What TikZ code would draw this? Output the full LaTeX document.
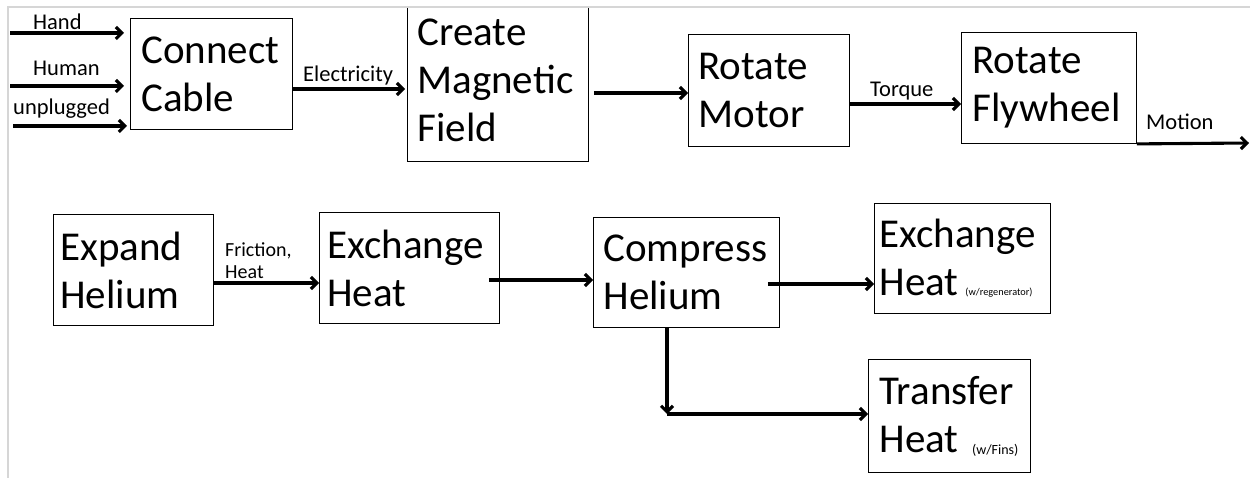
\documentclass[tikz,border=0pt]{standalone}
\usepackage{fontspec}
\setmainfont{Carlito}
\usetikzlibrary{arrows.meta}
\begin{document}
\begin{tikzpicture}[x=1pt,y=-1pt,
  box/.style={draw=black, line width=0.9pt, rectangle, anchor=north west, align=left,
              inner ysep=0pt, font=\fontsize{41}{48}\selectfont},
  arr/.style={line width=3.1pt, -{Straight Barb[length=6pt,width=12pt]}},
  lbl/.style={anchor=base west, inner sep=0pt, font=\fontsize{22.5}{27}\selectfont},
  slbl/.style={anchor=base west, inner sep=0pt, font=\fontsize{20}{22}\selectfont},
  frame/.style={draw=black!16, line width=2pt}
]
\useasboundingbox (0,0) rectangle (1250,478);

% row 1 boxes
\node[box, inner xsep=11pt, text width=140pt, minimum height=111pt] (cc) at (130,18) {Connect\\Cable};
\node[box, draw=none, inner xsep=10pt, text width=161pt, minimum height=163pt] (cmf) at (407,-2) {Create\\Magnetic\\Field};
\draw[line width=0.9pt] (cmf.south west) rectangle (cmf.east |- 0,7);
\node[box, inner xsep=10pt, text width=141pt, minimum height=112pt] (rm) at (688,34) {Rotate\\Motor};
\node[box, inner xsep=11pt, text width=153pt, minimum height=111pt] (rf) at (961,32) {Rotate\\Flywheel};
\draw[frame] (8,478) -- (8,7) -- (1250,7);

% row 2 boxes
\node[box, inner xsep=7pt, text width=146pt, minimum height=111pt] (eh) at (53,214) {Expand\\Helium};
\node[box, inner xsep=8pt, text width=164pt, minimum height=111pt] (exh) at (319,212) {Exchange\\Heat};
\node[box, inner xsep=10pt, text width=166pt, minimum height=110pt] (cmp) at (593,217) {Compress\\Helium};
\node[box, inner xsep=5pt, text width=166pt, minimum height=110pt] (exr) at (874,203)
  {Exchange\\Heat\hspace{7pt}{\fontsize{10.3}{12}\selectfont(w/regenerator)}};
\node[box, inner xsep=11pt, text width=140pt, minimum height=113pt] (th) at (868,359)
  {Transfer\\Heat {\fontsize{14}{16}\selectfont\raisebox{-2pt}{(w/Fins)}}};

% input arrows
\coordinate (hand) at (10,33);
\coordinate (human) at (10,86);
\coordinate (unpl) at (13,126);
\draw[arr, shorten >=6pt] (hand) -- (hand -| cc.west);
\draw[arr, shorten >=6pt] (human) -- (human -| cc.west);
\draw[arr, shorten >=3pt] (unpl) -- (unpl -| cc.west);
\node[lbl] (lhand) at (33,30) {Hand};
\node[lbl] (lhuman) at (33,76) {Human};
\node[lbl] (lunpl) at (13,115) {unplugged};

% row 1 connectors
\draw[arr, shorten >=2pt] (cc.east |- 0,89) -- (cmf.west |- 0,89);
\node[lbl] (lel) at (303,82) {Electricity};
\draw[arr, shorten <=5pt] (cmf.east |- 0,93) -- (rm.west |- 0,93);
\draw[arr] (rm.east |- 0,104) -- (rf.west |- 0,104);
\node[lbl] (ltq) at (870,97) {Torque};
\coordinate (mo) at (1249,143);
\draw[arr] (rf.south east) -- (mo);
\node[lbl] (lmo) at (1146,130) {Motion};

% row 2 connectors
\draw[arr] (eh.east |- 0,283) -- (exh.west |- 0,283);
\node[slbl] (lfr) at (225,257) {Friction,};
\node[slbl] (lht) at (225,279) {Heat};
\draw[arr, shorten <=-11pt] (exh.east |- 0,280) -- (cmp.west |- 0,280);
\draw[arr, shorten <=-12pt] (cmp.east |- 0,284) -- (exr.west |- 0,284);
\coordinate (corner) at (667,414);
\draw[arr] (cmp.south -| corner) -- (corner);
\draw[arr] (corner) -- (th.west |- corner);
\end{tikzpicture}
\end{document}
